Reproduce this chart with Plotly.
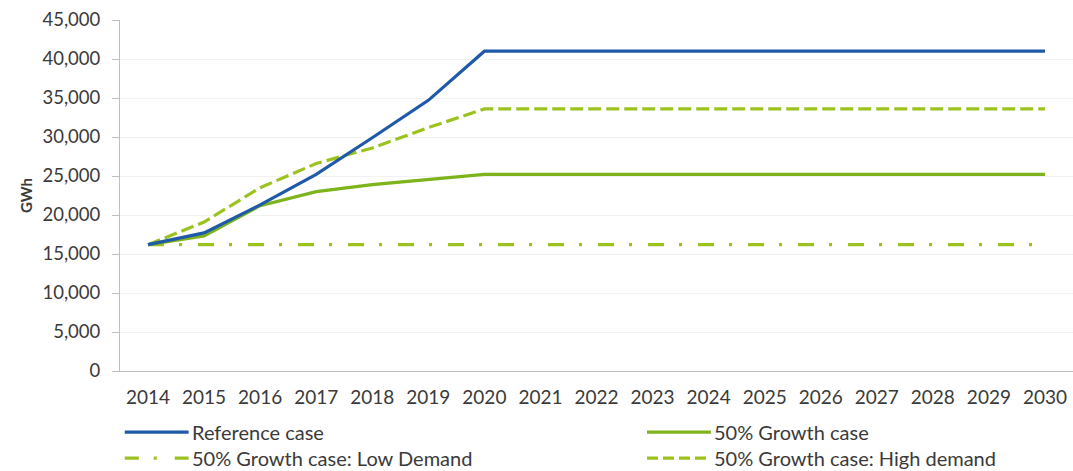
import plotly.graph_objects as go

# Annual electricity demand scenarios (GWh)
years = [str(y) for y in range(2014, 2031)]
reference_case = [16200, 17700, 21300, 25200, 29900, 34700, 41000,
                  41000, 41000, 41000, 41000, 41000, 41000, 41000, 41000, 41000, 41000]
growth_case = [16200, 17300, 21200, 23000, 23900, 24600, 25200,
               25200, 25200, 25200, 25200, 25200, 25200, 25200, 25200, 25200, 25200]
growth_low = [16200] * 17
growth_high = [16200, 19100, 23500, 26600, 28600, 31200, 33600,
               33600, 33600, 33600, 33600, 33600, 33600, 33600, 33600, 33600, 33600]

y_ticks = list(range(0, 45001, 5000))

BLUE = "#1F5AA8"
GREEN = "#7DB31B"
LIGHT_GREEN = "#9CC21F"
TEXT = "#3A3A3A"
FONT = "Lato"

series = [
    ("Reference case", reference_case, BLUE, "solid"),
    ("50% Growth case", growth_case, GREEN, "solid"),
    ("50% Growth case: Low Demand", growth_low, LIGHT_GREEN, "16px,15px,3px,16px"),
    ("50% Growth case: High demand", growth_high, LIGHT_GREEN, "13px,5px"),
]

fig = go.Figure()
# draw order: low/high first so the solid lines sit on top
for name, vals, color, dash in [series[2], series[3], series[1], series[0]]:
    fig.add_trace(go.Scatter(
        x=years, y=vals, name=name, mode="lines",
        line=dict(color=color, width=3.2, dash=dash),
        showlegend=False,
    ))

# two-column legend below the axis
legend_pos = [(0.005, -0.174), (0.553, -0.174), (0.005, -0.248), (0.553, -0.248)]
key_len = 0.067
legend_dash = ["solid", "solid", "14px,15px,3px,18px", "11px,5px"]
for (name, vals, color, dash), (lx, ly), kd in zip(series, legend_pos, legend_dash):
    fig.add_shape(type="line", xref="paper", yref="paper",
                  x0=lx, x1=lx + key_len, y0=ly, y1=ly,
                  line=dict(color=color, width=3.2, dash=kd))
    fig.add_annotation(xref="paper", yref="paper", x=lx + key_len + 0.001, y=ly,
                       text=name, showarrow=False, xanchor="left", yanchor="middle",
                       font=dict(family=FONT, size=20, color=TEXT))

fig.update_layout(
    width=1073, height=471,
    margin=dict(l=120, r=0, t=20, b=100),
    paper_bgcolor="white", plot_bgcolor="white",
    font=dict(family=FONT, size=18, color=TEXT),
)
fig.update_xaxes(
    type="category", range=[-0.5, 16.5],
    showline=True, linecolor="#BFBFBF", linewidth=1,
    showgrid=False, ticks="", tickfont=dict(size=19, color=TEXT),
    ticklabelstandoff=9,
)
fig.update_yaxes(
    range=[0, 45000], tickvals=y_ticks, tickformat=",",
    showline=True, linecolor="#BFBFBF", linewidth=1,
    showgrid=True, gridcolor="#F2F2F2", gridwidth=1,
    ticks="outside", ticklen=7, tickcolor="#BFBFBF",
    tickfont=dict(size=18.5, color=TEXT), ticklabelstandoff=8,
    title=dict(text="<b>GWh</b>", font=dict(size=15, color=TEXT), standoff=6),
    zeroline=False,
)

fig.write_html("out.html")
